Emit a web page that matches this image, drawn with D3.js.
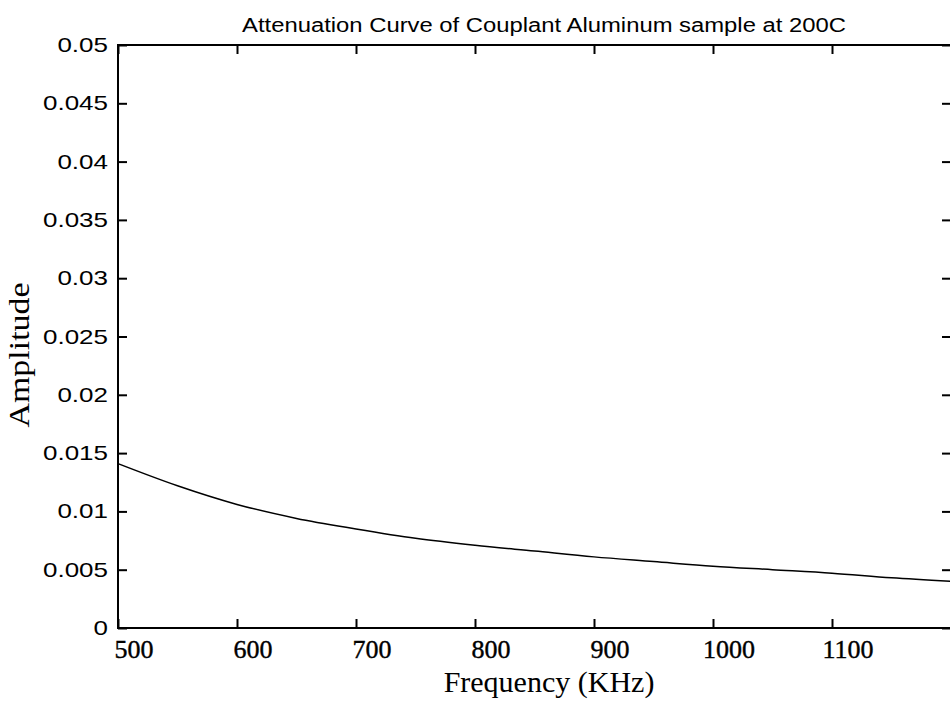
<!DOCTYPE html>
<html>
<head>
<meta charset="utf-8">
<script src="https://cdn.jsdelivr.net/npm/d3@7"></script>
<style>
  body { margin: 0; background: #fff; }
  svg { display: block; }
</style>
</head>
<body>
<script>
// values
const freq = [500, 550, 600, 650, 700, 750, 800, 850, 900, 950, 1000, 1050, 1100, 1150, 1200];
const amp = [0.0141, 0.0122, 0.0106, 0.0094, 0.0085, 0.0077, 0.0071, 0.0066, 0.0061, 0.0057,
  0.0053, 0.0050, 0.0047, 0.0043, 0.0040];
const xTicks = [500, 600, 700, 800, 900, 1000, 1100];
const yTicks = [0, 0.005, 0.01, 0.015, 0.02, 0.025, 0.03, 0.035, 0.04, 0.045, 0.05];
const yLabels = ["0", "0.005", "0.01", "0.015", "0.02", "0.025", "0.03", "0.035", "0.04", "0.045", "0.05"];

const W = 950, H = 706;
const margin = {top: 45, left: 118},
  width = 833,
  height = 583;

let svg = d3.select("body").append("svg")
  .attr("width", W)
  .attr("height", H);

let x = d3.scaleLinear().domain([500, 1200]).range([0, width]);
let y = d3.scaleLinear().domain([0, 0.05]).range([height, 0]);

let g = svg.append("g")
  .attr("transform", "translate(" + margin.left + "," + margin.top + ")");

// frame
g.append("rect")
  .attr("width", width)
  .attr("height", height)
  .attr("fill", "none")
  .attr("stroke", "#000")
  .attr("stroke-width", 2);

// inward ticks on all four sides, labels added by hand below
let axes = [
  {ax: d3.axisBottom(x).tickValues(xTicks), t: "translate(0," + height + ")"},
  {ax: d3.axisTop(x).tickValues(xTicks), t: "translate(0,0)"},
  {ax: d3.axisLeft(y).tickValues(yTicks), t: "translate(0,0)"},
  {ax: d3.axisRight(y).tickValues(yTicks), t: "translate(" + width + ",0)"}
];
axes.forEach(function (a) {
  let sel = g.append("g")
    .attr("transform", a.t)
    .call(a.ax.tickSizeInner(-9).tickSizeOuter(0).tickFormat(""));
  sel.select(".domain").remove();
  sel.selectAll(".tick line").attr("stroke", "#000").attr("stroke-width", 2);
});

// x tick labels (serif, shifted right like the scan)
g.selectAll("text.xl")
  .data(xTicks)
  .enter().append("text")
  .attr("class", "xl")
  .attr("x", d => x(d) + 16)
  .attr("y", height + 30)
  .attr("text-anchor", "middle")
  .style("font-family", "Liberation Serif, Times New Roman, serif")
  .style("font-size", "26px")
  .style("stroke", "#000")
  .style("stroke-width", 0.4)
  .text(d => d);

// y tick labels (sans, wide)
g.selectAll("text.yl")
  .data(yTicks)
  .enter().append("text")
  .attr("class", "yl")
  .attr("transform", d => "translate(-10," + (y(d) + 7) + ") scale(1.3,1)")
  .attr("text-anchor", "end")
  .style("font-family", "Liberation Sans, Arial, sans-serif")
  .style("font-size", "20px")
  .text((d, i) => yLabels[i]);

// curve
let line = d3.line()
  .x((d, i) => x(freq[i]))
  .y(d => y(d))
  .curve(d3.curveMonotoneX);

g.append("path")
  .datum(amp)
  .attr("fill", "none")
  .attr("stroke", "#000")
  .attr("stroke-width", 1.5)
  .attr("d", line);

// title
svg.append("text")
  .attr("x", 544)
  .attr("y", 32)
  .attr("text-anchor", "middle")
  .attr("textLength", 604)
  .attr("lengthAdjust", "spacingAndGlyphs")
  .style("font-family", "Liberation Sans, Arial, sans-serif")
  .style("font-size", "20px")
  .text("Attenuation Curve of Couplant Aluminum sample at 200C");

// axis labels
svg.append("text")
  .attr("x", 549)
  .attr("y", 692)
  .attr("text-anchor", "middle")
  .style("font-family", "Liberation Serif, Times New Roman, serif")
  .style("font-size", "30px")
  .text("Frequency (KHz)");

svg.append("text")
  .attr("transform", "translate(29,355) rotate(-90)")
  .attr("text-anchor", "middle")
  .attr("textLength", 145)
  .attr("lengthAdjust", "spacingAndGlyphs")
  .style("font-family", "Liberation Serif, Times New Roman, serif")
  .style("font-size", "30px")
  .text("Amplitude");
</script>
</body>
</html>
